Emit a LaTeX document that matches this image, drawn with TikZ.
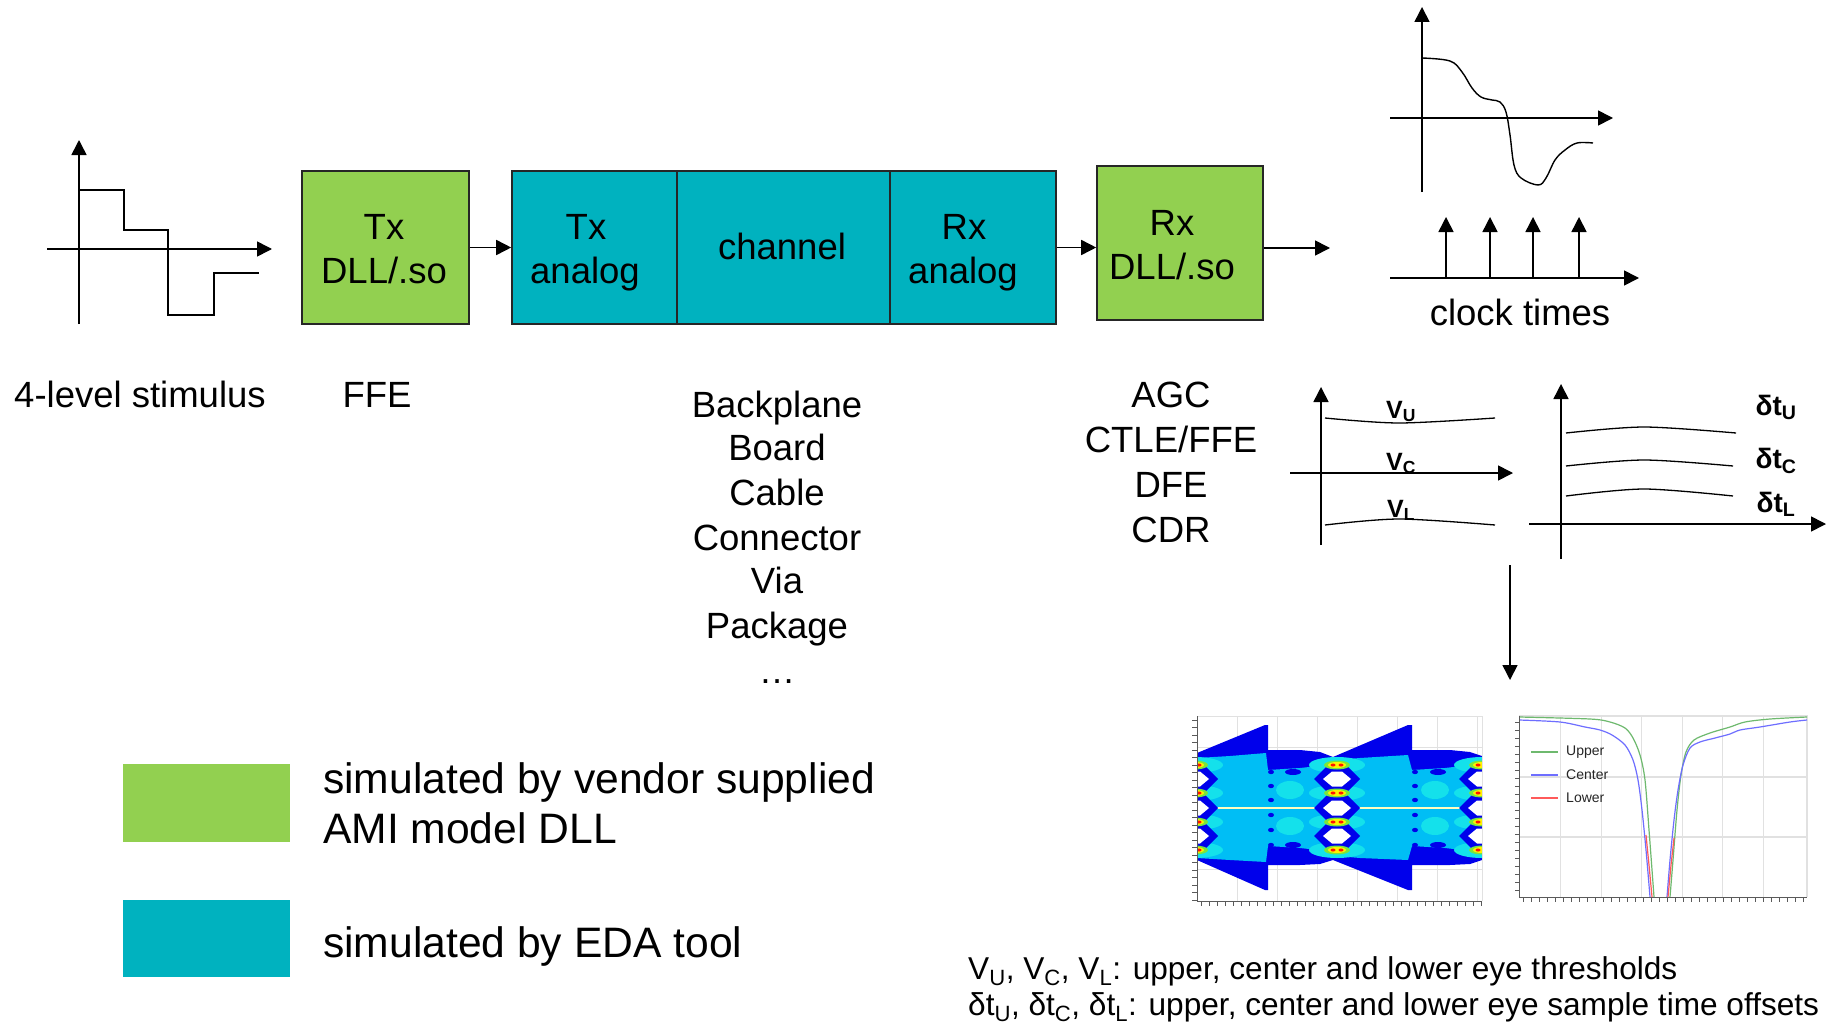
\documentclass[tikz,border=0pt]{standalone}
\usepackage{fontspec}
\setmainfont{Liberation Sans}
\usepackage{graphicx}
\usetikzlibrary{arrows.meta}
\definecolor{amigreen}{RGB}{146,208,80}
\definecolor{edateal}{RGB}{0,178,191}
\definecolor{eyeblue}{RGB}{0,0,235}
\definecolor{eyecyan}{RGB}{0,190,245}
\definecolor{eyecyanl}{RGB}{20,225,235}
\definecolor{gridgray}{RGB}{225,225,225}
\definecolor{axgray}{RGB}{90,90,90}
\definecolor{tubgreen}{RGB}{110,185,110}
\definecolor{tubblue}{RGB}{110,110,255}
\definecolor{tubred}{RGB}{255,90,90}
\definecolor{hotgreen}{RGB}{120,230,60}
\newcommand\fmain{\fontsize{36.5}{44}\selectfont}
\newcommand\flegend{\fontsize{42.6}{50}\selectfont}
\newcommand\fnote{\fontsize{31.6}{37}\selectfont}
\newcommand\ftiny{\fontsize{14}{16}\selectfont}
\newcommand\fthr{\fontsize{25}{30}\selectfont\bfseries}
\newcommand\fdt{\fontsize{28}{32}\selectfont\bfseries}
\begin{document}
\begin{tikzpicture}[x=1pt,y=-1pt,
  >={Triangle[length=15pt,width=15pt]},
  blockbox/.style={draw=black!85,line width=1.6pt,inner sep=0,minimum height=153pt},
  lbl/.style={inner sep=0,anchor=base,font=\fmain},
  conn/.style={line width=1.6pt,->},
  axisline/.style={line width=1.6pt,->},
  wave/.style={line width=1.4pt},
  thr/.style={line width=1.3pt},
  tick/.style={axgray,line width=0.6pt},
]
\fill[white] (0,0) rectangle (1828,1025);
\useasboundingbox (0,0) rectangle (1828,1025);

% ---------- blocks ----------
\node[blockbox,fill=amigreen,minimum width=167pt] (txdll) at (385.5,247.5) {};
\node[blockbox,fill=edateal,minimum width=165pt] (txa) at (594.5,247.5) {};
\node[blockbox,fill=edateal,minimum width=213pt] (chan) at (783.5,247.5) {};
\node[blockbox,fill=edateal,minimum width=166pt] (rxa) at (973,247.5) {};
\node[blockbox,fill=amigreen,minimum width=166pt,minimum height=154pt] (rxdll) at (1180,243) {};

\node[lbl] (txdllA) at (384,239) {Tx};
\node[lbl] (txdllB) at (384,283) {DLL/.so};
\node[lbl] (txaA) at (586,239) {Tx};
\node[lbl] (txaB) at (585,283) {analog};
\node[lbl] (chanA) at (782,259) {channel};
\node[lbl] (rxaA) at (964,239) {Rx};
\node[lbl] (rxaB) at (963,283) {analog};
\node[lbl] (rxdllA) at (1172,235) {Rx};
\node[lbl] (rxdllB) at (1172,279) {DLL/.so};

\draw[conn] (txdll) -- (txa);
\draw[conn] (rxa.east) -- (rxa.east -| rxdll.west);
\coordinate (outp) at (1330,248);
\draw[conn] (rxdll.east |- outp) -- (outp);

% ---------- stimulus ----------
\draw[axisline] (79,324) -- (79,140);
\draw[axisline] (47,249) -- (272,249);
\draw[wave] (79,190) -- (124,190) -- (124,230) -- (168,230) -- (168,315) -- (214,315) -- (214,273) -- (259,273);
\node[lbl] (stim) at (140,407) {4-level stimulus};
\node[lbl] (ffe) at (377,407) {FFE};

% ---------- channel list ----------
\foreach \t/\y/\n in {Backplane/417/cl1,Board/460/cl2,Cable/505/cl3,Connector/550/cl4,Via/593/cl5,Package/638/cl6,…/683/cl7}
  \node[lbl] (\n) at (777,\y) {\t};
\foreach \t/\y/\n in {AGC/407/rl1,{CTLE/FFE}/452/rl2,DFE/497/rl3,CDR/542/rl4}
  \node[lbl] (\n) at (1171,\y) {\t};

% ---------- received waveform ----------
\draw[axisline] (1422,192) -- (1422,7);
\draw[axisline] (1390,118) -- (1613,118);
\draw[wave] plot[smooth,tension=0.6] coordinates {(1422,58) (1450,61) (1462,72) (1472,88) (1481,97) (1492,100) (1500,102) (1506,112) (1510,135) (1514,165) (1521,178) (1538,185) (1546,178) (1555,160) (1565,150) (1577,143) (1593,143)};

% clock
\draw[axisline] (1390,278) -- (1639,278);
\foreach \x in {1446,1490,1533,1579} \draw[axisline] (\x,278) -- (\x,217);
\node[lbl] (clk) at (1520,325) {clock times};

% ---------- thresholds chart ----------
\draw[axisline] (1321,545) -- (1321,387);
\draw[axisline] (1290,473) -- (1513,473);
\draw[thr] plot[smooth] coordinates {(1325,418) (1399,423) (1495,418)};
\draw[thr] plot[smooth] coordinates {(1325,525) (1399,519) (1495,525)};
\node[lbl,font=\fthr] (vu) at (1401,418) {V\textsubscript{U}};
\node[lbl,font=\fthr] (vc) at (1401,470) {V\textsubscript{C}};
\node[lbl,font=\fthr] (vl) at (1401,517) {V\textsubscript{L}};

\draw[axisline] (1561,559) -- (1561,384);
\draw[axisline] (1529,524) -- (1826,524);
\draw[thr] plot[smooth] coordinates {(1566,433) (1644,427) (1736,433)};
\draw[thr] plot[smooth] coordinates {(1566,466) (1644,460) (1733,466)};
\draw[thr] plot[smooth] coordinates {(1566,496) (1644,489) (1733,496)};
\node[lbl,font=\fdt] (dtu) at (1776,415) {δt\textsubscript{U}};
\node[lbl,font=\fdt] (dtc) at (1776,468) {δt\textsubscript{C}};
\node[lbl,font=\fdt] (dtl) at (1776,512) {δt\textsubscript{L}};

\coordinate (dtop) at (1510,565);
\coordinate (dbot) at (1510,680);
\draw[conn] (dtop) -- (dbot);

% ---------- eye diagram ----------
\foreach \x in {1237,1277,1317,1357,1397,1437,1477} \draw[gridgray,line width=1pt] (\x,716) -- (\x,901);
\foreach \y in {747,778,808,838,869} \draw[gridgray,line width=1pt] (1197,\y) -- (1482,\y);
\begin{scope}
\clip (1197,716) rectangle (1482,901);
\fill[eyeblue] (1190,756) -- (1197,753) -- (1265,725) -- (1268,725) -- (1268,750) -- (1300,750) -- (1320,752) -- (1333,757) -- (1408,725) -- (1412,725) -- (1412,750) -- (1450,750) -- (1470,752) -- (1482,756) -- (1490,754)
  -- (1490,862) -- (1482,860) -- (1470,864) -- (1450,865) -- (1412,865) -- (1412,890) -- (1408,890) -- (1333,860) -- (1320,864) -- (1300,865) -- (1268,865) -- (1268,890) -- (1265,890) -- (1197,860) -- (1190,858) -- cycle;
\fill[eyecyan] (1197,758) -- (1230,756) -- (1266,753) -- (1268,770) -- (1300,768) -- (1318,766) -- (1337,760) -- (1360,758) -- (1408,755) -- (1412,770) -- (1445,768) -- (1462,766) -- (1482,760)
  -- (1482,856) -- (1462,850) -- (1445,848) -- (1412,846) -- (1408,860) -- (1360,858) -- (1337,856) -- (1318,850) -- (1300,848) -- (1268,846) -- (1266,862) -- (1230,860) -- (1197,858) -- cycle;
\foreach \cx in {1290,1435}{
  \fill[eyecyanl] (\cx,790) ellipse [x radius=14,y radius=9];
  \fill[eyecyanl] (\cx,826) ellipse [x radius=14,y radius=9];
  \fill[eyeblue] (\cx+3,772) ellipse [x radius=8,y radius=3];
  \fill[eyeblue] (\cx+3,845) ellipse [x radius=8,y radius=3];
}
\foreach \cx in {1271,1415}{
  \foreach \cy in {772,786,800,815,830,845} \fill[eyeblue] (\cx,\cy) ellipse [x radius=3,y radius=2.2];
}
\draw[white!75!yellow,line width=1.4pt] (1197,808) -- (1482,808);
\foreach \cx in {1195,1337,1482}{
  \foreach \cy in {765,793,822,850} \fill[eyecyanl] (\cx,\cy) ellipse [x radius=28,y radius=8];
  \foreach \cy in {779,808,836}{
    \fill[eyeblue] (\cx-23,\cy) -- (\cx-10,\cy-13) -- (\cx+10,\cy-13) -- (\cx+23,\cy) -- (\cx+10,\cy+13) -- (\cx-10,\cy+13) -- cycle;
    \fill[white] (\cx-14,\cy) -- (\cx-5,\cy-7.5) -- (\cx+5,\cy-7.5) -- (\cx+14,\cy) -- (\cx+5,\cy+7.5) -- (\cx-5,\cy+7.5) -- cycle;
  }
  \foreach \cy in {765,793,822,850}{
    \fill[hotgreen] (\cx,\cy) ellipse [x radius=13,y radius=4.5];
    \fill[yellow] (\cx,\cy) ellipse [x radius=9,y radius=3];
    \fill[red!85!orange] (\cx-4,\cy) ellipse [x radius=2.5,y radius=1.5];
    \fill[red!85!orange] (\cx+4,\cy) ellipse [x radius=2.5,y radius=1.5];
  }
}
\end{scope}
\draw[gridgray,line width=1pt] (1197,716) -- (1482,716) -- (1482,901);
\draw[axgray,line width=1pt] (1197,716) -- (1197,901) -- (1482,901);
\foreach \y in {720,727.5,...,901} \draw[tick] (1192,\y) -- (1197,\y);
\foreach \x in {1201,1209,...,1482} \draw[tick] (\x,901) -- (\x,906);

% ---------- bathtub ----------
\foreach \x in {1560,1601,1641,1682,1722,1763} \draw[gridgray,line width=1pt] (\x,716) -- (\x,897);
\foreach \y in {777,837} \draw[gridgray,line width=2.5pt] (1519,\y) -- (1807,\y);
\draw[gridgray,line width=2.5pt] (1519,716) -- (1807,716) -- (1807,897);
\draw[tubgreen,line width=1.2pt] plot[smooth,tension=0.5] coordinates {(1519,717) (1590,719) (1610,722) (1625,728) (1633,738) (1640,755) (1645,780) (1649,830) (1652,870) (1654,897)};
\draw[tubgreen,line width=1.2pt] plot[smooth,tension=0.5] coordinates {(1670,897) (1673,860) (1677,810) (1681,775) (1686,752) (1694,740) (1710,733) (1730,727) (1745,722) (1770,719) (1807,717)};
\draw[tubblue,line width=1.2pt] plot[smooth,tension=0.5] coordinates {(1519,720) (1560,722) (1585,727) (1600,730) (1612,735) (1625,745) (1633,760) (1638,780) (1642,810) (1646,850) (1650,897)};
\draw[tubblue,line width=1.2pt] plot[smooth,tension=0.5] coordinates {(1667,897) (1670,860) (1674,820) (1678,790) (1683,765) (1690,748) (1700,742) (1715,738) (1730,734) (1740,730) (1760,727) (1790,722) (1807,720)};
\draw[tubred,line width=1.2pt] (1646,835) -- (1649,865) -- (1652,897);
\draw[tubred,line width=1.2pt] (1668,897) -- (1671,865) -- (1674,838);
\draw[axgray,line width=1pt] (1519,716) -- (1519,897) -- (1807,897);
\foreach \y in {722,730,...,897} \draw[tick] (1515,\y) -- (1519,\y);
\foreach \x in {1523,1531,...,1807} \draw[tick] (\x,897) -- (\x,902);
\draw[tubgreen,line width=1.2pt] (1531,752) -- (1558,752);
\draw[tubblue,line width=1.2pt] (1531,775) -- (1558,775);
\draw[tubred,line width=1.2pt] (1531,798) -- (1558,798);
\node[inner sep=0,anchor=west,font=\ftiny,text=black!85] (lgu) at (1566,752) {Upper};
\node[inner sep=0,anchor=west,font=\ftiny,text=black!85] (lgc) at (1566,775) {Center};
\node[inner sep=0,anchor=west,font=\ftiny,text=black!85] (lgl) at (1566,798) {Lower};

% ---------- legend ----------
\node[fill=amigreen,inner sep=0,minimum width=167pt,minimum height=78pt] (lgG) at (206.5,803) {};
\node[fill=edateal,inner sep=0,minimum width=167pt,minimum height=77pt] (lgT) at (206.5,938.5) {};
\node[lbl,anchor=base west,font=\flegend] (lgG1) at (323,793) {simulated by vendor supplied};
\node[lbl,anchor=base west,font=\flegend] (lgG2) at (323,843) {AMI model DLL};
\node[lbl,anchor=base west,font=\flegend] (lgT1) at (323,957) {simulated by EDA tool};

% ---------- notes ----------
\node[lbl,anchor=base west,font=\fnote] (note1) at (968,979) {V\textsubscript{U}, V\textsubscript{C}, V\textsubscript{L}: upper, center and lower eye thresholds};
\node[lbl,anchor=base west,font=\fnote] (note2) at (968,1015) {δt\textsubscript{U}, δt\textsubscript{C}, δt\textsubscript{L}: upper, center and lower eye sample time offsets};
\end{tikzpicture}
\end{document}
